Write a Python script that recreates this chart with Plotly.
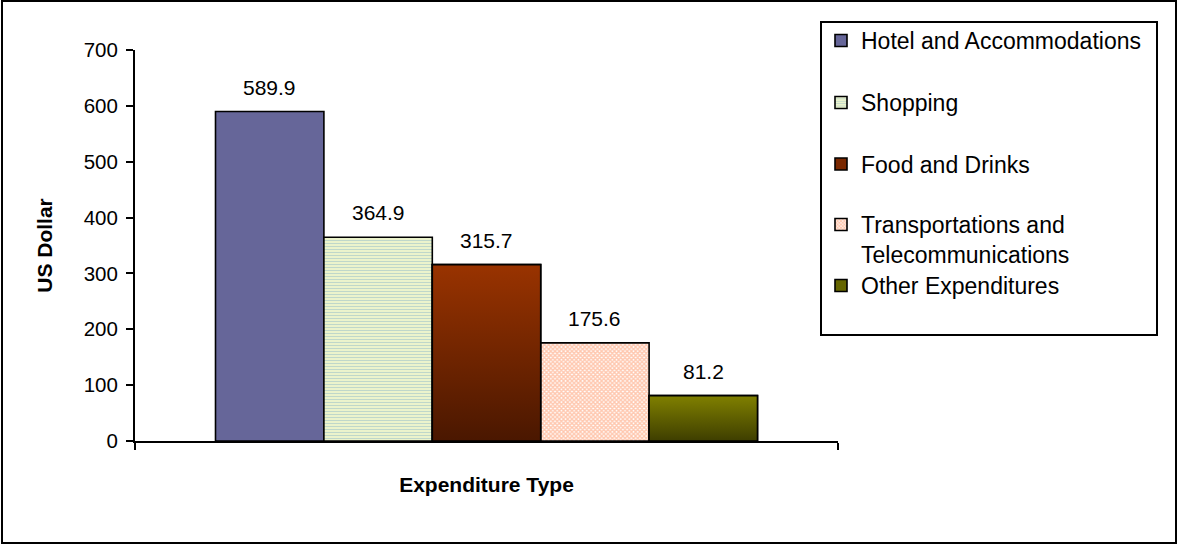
import plotly.graph_objects as go

# Average spending per visitor by expenditure type
categories = [
    "Hotel and Accommodations",
    "Shopping",
    "Food and Drinks",
    "Transportations and<br>Telecommunications",
    "Other Expenditures",
]
values = [589.9, 364.9, 315.7, 175.6, 81.2]
y_ticks = [0, 100, 200, 300, 400, 500, 600, 700]

W, H = 1181, 545
ML, MR, MT, MB = 135, 343, 50, 104
PW, PH = W - ML - MR, H - MT - MB


def px_x(p):
    return (p - ML) / PW


def px_y(p):
    return (H - MB - p) / PH


FONT = "Liberation Sans, Arial, sans-serif"

# bar styles: solid, striped, gradient, hatched, gradient
solid_colors = ["#666699", "#FFFFCC", "#7A2800", "#FFCCAA", "#666600"]
patterns = [
    None,
    dict(shape="-", fgcolor="#7FAFC8", bgcolor="#FFFFCC", size=3, solidity=0.55),
    None,
    dict(shape="x", fgcolor="#FF8F5E", bgcolor="#FFFFFF", size=3, solidity=0.7),
    None,
]
gradients = [None, None, ("#4A1700", "#993300"), None, ("#3E3E00", "#808000")]

# vertical anchor (px) of each legend entry
legend_pos = [40.5, 102.5, 164, 203, 285.5]

fig = go.Figure()
n = len(values)
for i in range(n):
    legend_id = "legend" if i == 0 else f"legend{i + 1}"
    marker = dict(color=solid_colors[i], line=dict(color="black", width=1.6))
    if patterns[i]:
        marker["pattern"] = patterns[i]
    fig.add_trace(go.Bar(
        x=[i], y=[values[i]], width=1, name=categories[i],
        marker=marker, legend=legend_id, hoverinfo="name+y",
    ))

for i in range(n):
    if gradients[i] is None:
        continue
    dark, light = gradients[i]
    v = values[i]
    fig.add_trace(go.Scatter(
        x=[i - 0.5, i + 0.5, i + 0.5, i - 0.5, i - 0.5],
        y=[0, 0, v, v, 0],
        mode="lines", fill="toself",
        fillgradient=dict(type="vertical", colorscale=[[0, dark], [1, light]],
                          start=0, stop=v),
        line=dict(color="black", width=1.6),
        showlegend=False, hoverinfo="skip",
    ))

# value labels above each bar
for i, v in enumerate(values):
    fig.add_annotation(x=i, y=v, text=f"{v:.1f}", showarrow=False,
                       yanchor="bottom", yshift=11,
                       font=dict(size=21, color="black", family=FONT))

# x range leaves a margin of ~0.74 bar widths on both sides
pad = 0.7426
x_lo, x_hi = -0.5 - pad, n - 0.5 + pad

layout_legends = {}
for i in range(n):
    key = "legend" if i == 0 else f"legend{i + 1}"
    layout_legends[key] = dict(
        x=px_x(821), y=px_y(legend_pos[i]),
        xanchor="left", yanchor="top" if i == 3 else "middle",
        valign="top",
        bgcolor="rgba(0,0,0,0)", borderwidth=0,
        font=dict(size=23, color="black", family=FONT),
    )

fig.update_layout(
    width=W, height=H,
    margin=dict(l=ML, r=MR, t=MT, b=MB),
    paper_bgcolor="white", plot_bgcolor="white",
    barmode="overlay",
    font=dict(family=FONT, color="black"),
    **layout_legends,
    xaxis=dict(
        range=[x_lo, x_hi], showgrid=False, zeroline=False,
        showline=True, linecolor="black", linewidth=2,
        tickvals=[x_lo, x_hi], ticks="outside", ticklen=7, tickwidth=2,
        tickcolor="black", showticklabels=False,
        title=dict(text="<b>Expenditure Type</b>", standoff=28,
                   font=dict(size=21, family=FONT)),
    ),
    yaxis=dict(
        range=[0, 700], tickvals=y_ticks, showgrid=False, zeroline=False,
        showline=True, linecolor="black", linewidth=2,
        ticks="outside", ticklen=7, tickwidth=2, tickcolor="black",
        ticklabelstandoff=4,
        tickfont=dict(size=20.5, family=FONT),
        title=dict(text="<b>US Dollar</b>", standoff=25,
                   font=dict(size=21, family=FONT)),
    ),
    shapes=[
        # legend frame
        dict(type="rect", xref="paper", yref="paper",
             x0=px_x(821), x1=px_x(1157), y0=px_y(335), y1=px_y(22),
             line=dict(color="black", width=2), fillcolor="rgba(0,0,0,0)"),
        # chart frame
        dict(type="rect", xref="paper", yref="paper",
             x0=px_x(2), x1=px_x(1176), y0=px_y(543), y1=px_y(1),
             line=dict(color="black", width=2), fillcolor="rgba(0,0,0,0)"),
    ],
)

fig.write_html("out.html")
